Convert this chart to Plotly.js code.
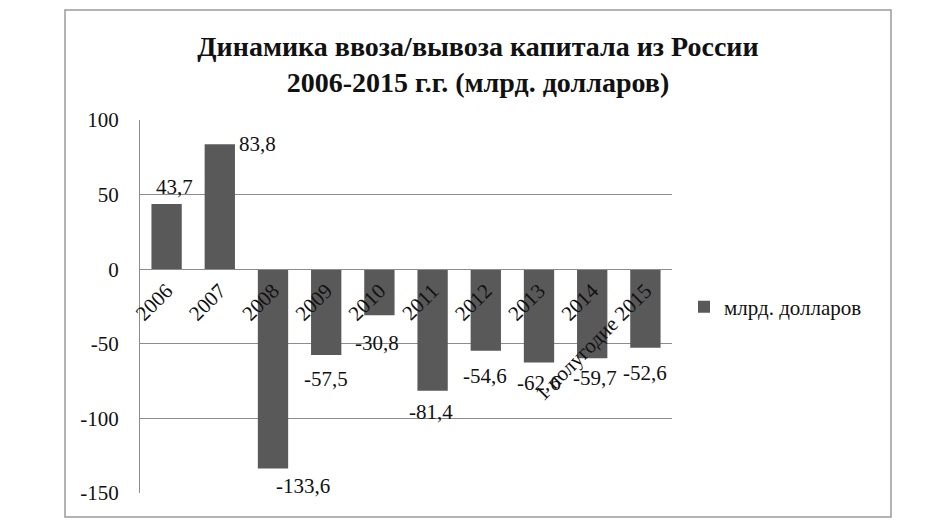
<!DOCTYPE html>
<html>
<head>
<meta charset="utf-8">
<script src="https://cdn.plot.ly/plotly-3.0.1.min.js"></script>
<style>html,body{margin:0;padding:0;background:#fff;}#chart{width:927px;height:532px;}</style>
</head>
<body>
<div id="chart"></div>
<script>
const categories = ["2006","2007","2008","2009","2010","2011","2012","2013","2014","1 полугодие 2015"];
const values = [43.7, 83.8, -133.6, -57.5, -30.8, -81.4, -54.6, -62.6, -59.7, -52.6];
const seriesName = "млрд. долларов";
const yTicks = [100, 50, 0, -50, -100, -150];
const titleText = "Динамика ввоза/вывоза капитала из России<br>2006-2015 г.г. (млрд. долларов)";

// label offsets (styling only, pixels)
const labelXShift = [8, 38, 30, 0, -2, -2, -1, 0, 3, 0];
const labelYShift = [17, 0, -17, -24, -28, -21, -25, -20, -20, -25];

const serif = "Liberation Serif, Times New Roman, serif";
const fmt = v => v.toFixed(1).replace('.', ',');

const annotations = values.map((v, i) => ({
  x: i, y: v, xref: 'x', yref: 'y',
  text: fmt(v), showarrow: false,
  xanchor: 'center', yanchor: 'middle',
  xshift: labelXShift[i], yshift: labelYShift[i],
  font: {family: serif, size: 21, color: '#111'}
}));

const trace = {
  type: 'bar', x: categories, y: values, name: seriesName,
  marker: {color: '#595959'}, showlegend: true
};

const L = 140, R = 672, T = 120, B = 493;
const pw = R - L, ph = B - T;
const px = x => (x - L) / pw;
const py = y => (B - y) / ph;

const layout = {
  width: 927, height: 532,
  margin: {l: L, r: 927 - R, t: T, b: 532 - B, pad: 0},
  paper_bgcolor: '#fff', plot_bgcolor: '#fff',
  bargap: 0.43,
  title: {
    text: titleText, xref: 'paper', x: px(478), xanchor: 'center',
    yref: 'container', y: 1 - 56/532, yanchor: 'middle',
    font: {family: serif, size: 28, color: '#111', weight: 'bold'}
  },
  xaxis: {
    type: 'category', anchor: 'free', position: 0.6,
    showline: true, linecolor: '#8c8c8c', linewidth: 1,
    ticks: '', tickangle: -45, showgrid: false, zeroline: false,
    tickfont: {family: serif, size: 21, color: '#111'},
    automargin: false, range: [-0.5, 9.5]
  },
  yaxis: {
    range: [-150, 100], tickvals: yTicks, ticktext: yTicks.map(String),
    showline: true, linecolor: '#8c8c8c', linewidth: 1,
    showgrid: true, gridcolor: '#8c8c8c', gridwidth: 1, zeroline: false,
    ticks: '', ticklabelstandoff: 16,
    tickfont: {family: serif, size: 21, color: '#111'},
    automargin: false
  },
  legend: {
    x: px(684), xanchor: 'left', y: py(307), yanchor: 'middle',
    font: {family: serif, size: 21, color: '#111'},
    bgcolor: 'rgba(0,0,0,0)', itemwidth: 30
  },
  shapes: [{
    type: 'rect', xref: 'paper', yref: 'paper',
    x0: px(65), x1: px(891), y0: py(517), y1: py(10),
    line: {color: '#9a9a9a', width: 1.5}, layer: 'below'
  }],
  annotations: annotations
};

Plotly.newPlot('chart', [trace], layout, {displayModeBar: false, staticPlot: true});
</script>
</body>
</html>
